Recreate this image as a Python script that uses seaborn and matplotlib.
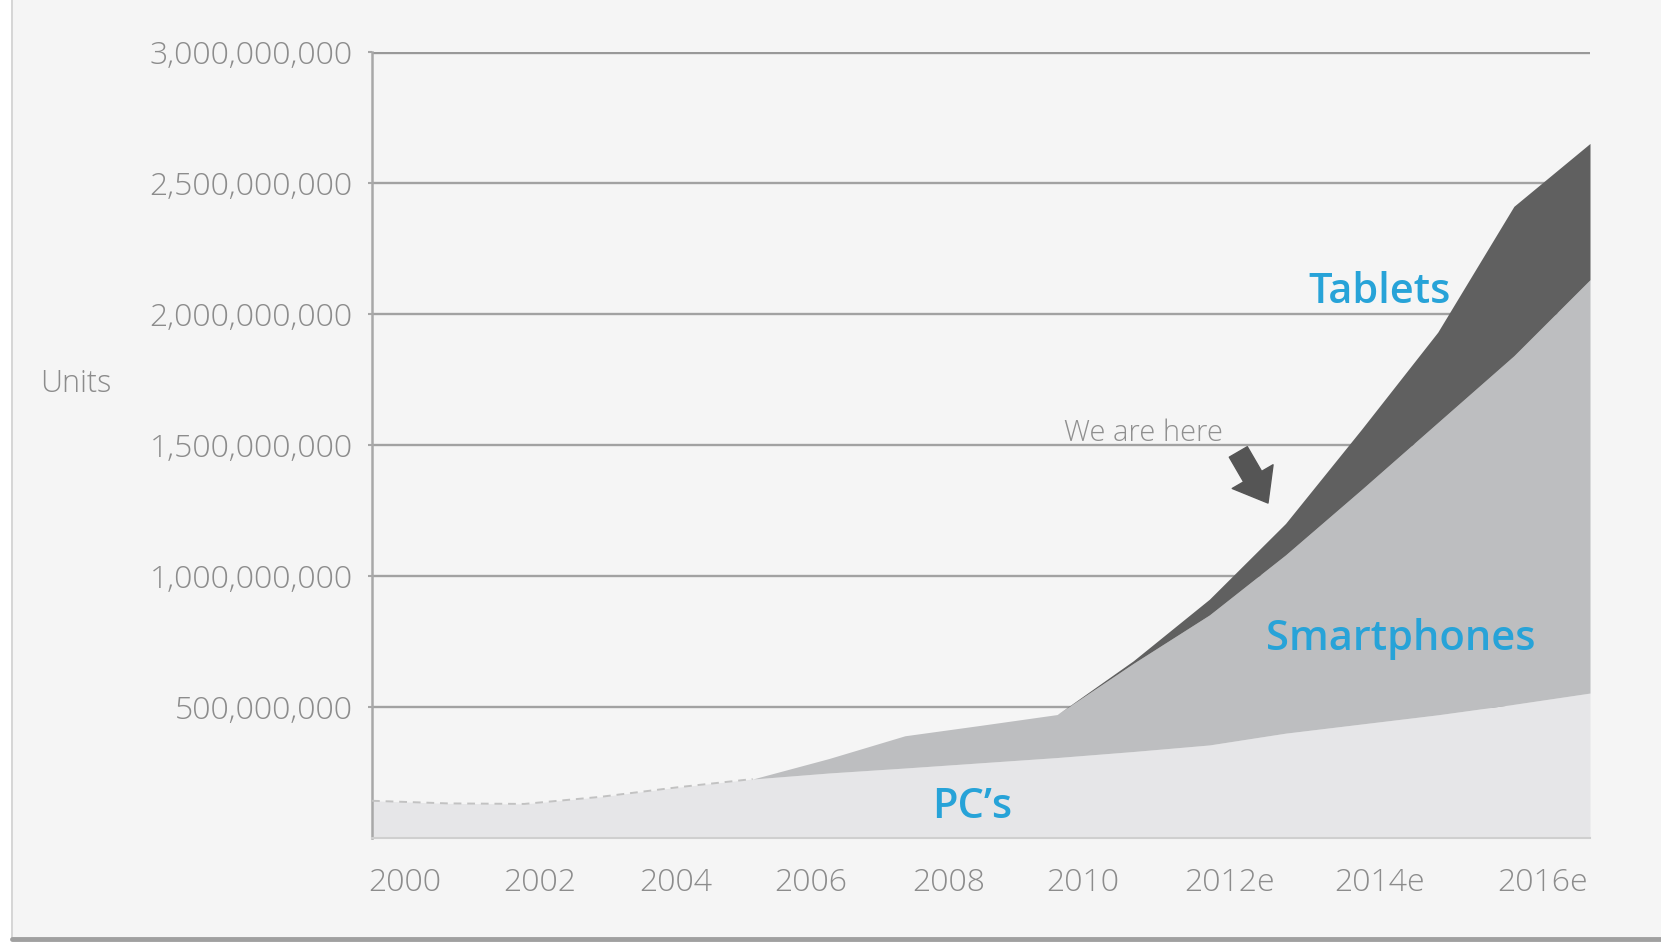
import numpy as np
import pandas as pd
import matplotlib
matplotlib.use('Agg')
import matplotlib.pyplot as plt
from matplotlib.lines import Line2D
from matplotlib.patches import Rectangle
from matplotlib.ticker import FuncFormatter
import seaborn as sns

# Units shipped per year (billions)
years = list(range(2000, 2017))
pcs = [0.142, 0.132, 0.130, 0.157, 0.193, 0.225, 0.248, 0.267, 0.287, 0.307,
       0.330, 0.355, 0.400, 0.435, 0.470, 0.510, 0.553]
smartphones = [0.0, 0.0, 0.0, 0.0, 0.0, 0.0, 0.055, 0.123, 0.143, 0.164,
               0.336, 0.496, 0.680, 0.895, 1.115, 1.330, 1.577]
tablets = [0.0, 0.0, 0.0, 0.0, 0.0, 0.0, 0.0, 0.0, 0.0, 0.0,
           0.010, 0.060, 0.120, 0.230, 0.345, 0.570, 0.520]

x_labels = ['2000', '2002', '2004', '2006', '2008', '2010', '2012e', '2014e', '2016e']
x_label_pos = [2000.43, 2002.21, 2003.99, 2005.77, 2007.57, 2009.34, 2011.26, 2013.24, 2015.38]
y_ticks = [0.5e9, 1.0e9, 1.5e9, 2.0e9, 2.5e9, 3.0e9]

df = pd.DataFrame({'year': years,
                   'PC': np.array(pcs) * 1e9,
                   'Smartphones': np.array(smartphones) * 1e9,
                   'Tablets': np.array(tablets) * 1e9})

sns.set_theme(style='white')
plt.rcParams['font.family'] = ['Open Sans', 'DejaVu Sans']

BG = '#f5f5f5'
BLUE = '#27a3d8'
GREY_TXT = '#8c8c8c'

W, H = 1661, 948
fig = plt.figure(figsize=(W / 100, H / 100), dpi=100, facecolor=BG)

# card frame: white margin on the left, shadow at the bottom
fig.add_artist(Rectangle((0, 0), 11 / W, 1, transform=fig.transFigure,
                         facecolor='white', edgecolor='none'))
fig.add_artist(Line2D([11.5 / W, 11.5 / W], [8 / H, 1], transform=fig.transFigure,
                      color='#d6d6d6', lw=1.4))
fig.add_artist(Rectangle((0, 0), 1, 8 / H, transform=fig.transFigure,
                         facecolor='white', edgecolor='none'))
fig.add_artist(Line2D([12 / W, 1], [9 / H, 9 / H], transform=fig.transFigure,
                      color='#a0a0a0', lw=3.5))

ax = fig.add_axes([372 / W, 110 / H, 1218 / W, 786.3 / H])
ax.set_facecolor(BG)

ax.stackplot(df['year'], df['PC'], df['Smartphones'], df['Tablets'],
             colors=['#e6e6e8', '#bdbec0', '#606060'], lw=0, zorder=2)

# dashed top edge of the early PC area
sns.lineplot(x=df['year'][:6], y=df['PC'][:6], ax=ax, color='#c2c2c2',
             lw=1.4, linestyle=(0, (4, 3)), zorder=3)

ax.set_xlim(2000, 2016)
ax.set_ylim(0, 3.0e9)
ax.set_axisbelow(True)
ax.set_yticks(y_ticks)
ax.yaxis.set_major_formatter(FuncFormatter(lambda v, p: f'{v:,.0f}'))
ax.yaxis.grid(True, color='#a2a2a2', lw=1.7)
ax.get_ygridlines()[-1].set_linewidth(2.4)
ax.get_ygridlines()[-1].set_color('#999999')
ax.xaxis.grid(False)
ax.set_xticks(x_label_pos, x_labels)
ax.set_xlabel('')
ax.set_ylabel('')

for s in ['top', 'right']:
    ax.spines[s].set_visible(False)
ax.spines['left'].set_color('#a8a8a8')
ax.spines['left'].set_linewidth(1.8)
ax.spines['bottom'].set_color('#cfcfcf')
ax.spines['bottom'].set_linewidth(1.5)

ax.tick_params(axis='y', left=True, length=3, width=1.5, color='#a8a8a8',
               pad=11, labelsize=23, labelcolor=GREY_TXT)
ax.tick_params(axis='x', bottom=False, length=0, pad=21,
               labelsize=23, labelcolor=GREY_TXT)
for lab in ax.get_xticklabels() + ax.get_yticklabels():
    lab.set_fontweight('light')

fig.text(76 / W, 1 - 392 / H, 'Units', ha='center', va='baseline',
         fontsize=22, color=GREY_TXT, fontweight='light')

# series labels
ax.text(2013.24, 2.041e9, 'Tablets', ha='center', va='baseline',
        fontsize=30, color=BLUE, fontweight='semibold', zorder=5)
ax.text(2013.52, 0.717e9, 'Smartphones', ha='center', va='baseline',
        fontsize=30, color=BLUE, fontweight='semibold', zorder=5)
ax.text(2007.88, 0.076e9, 'PC\u2019s', ha='center', va='baseline',
        fontsize=30, color=BLUE, fontweight='semibold', zorder=5)

ax.text(2010.13, 1.515e9, 'We are here', ha='center', va='baseline',
        fontsize=21, color='#8f8f8f', fontweight='light', zorder=5)
ax.annotate('', xy=(2011.77, 1.278e9), xytext=(2011.38, 1.473e9),
            arrowprops=dict(arrowstyle='simple,head_length=1.1,head_width=1.7,tail_width=0.75',
                            color='#555555', mutation_scale=20, shrinkA=0, shrinkB=0),
            zorder=5)

fig.savefig('out.png', dpi=100, facecolor=fig.get_facecolor())
